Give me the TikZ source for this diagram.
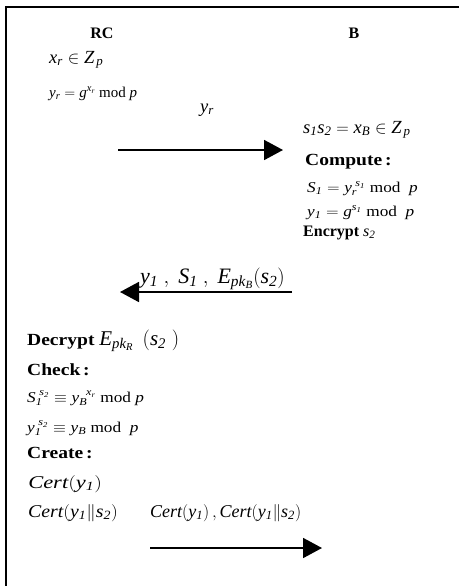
\documentclass[tikz,border=0pt]{standalone}
\usepackage{fontspec}
\setmainfont{Liberation Serif}
\newfontfamily\headfont{Liberation Serif}[FakeStretch=1.15]
\usetikzlibrary{arrows.meta}
\tikzset{
  head/.style={anchor=base west, inner sep=0pt, font=\headfont\fontsize{17}{20}\selectfont\bfseries},
  party/.style={anchor=base, inner sep=0pt, font=\fontsize{16}{19}\selectfont\bfseries},
  bigm/.style={anchor=base west, inner sep=0pt, font=\fontsize{18.5}{22}\selectfont},
  smallm/.style={anchor=base west, inner sep=0pt, xscale=1.15, font=\fontsize{15}{17}\selectfont},
  certm/.style={anchor=base west, inner sep=0pt, font=\fontsize{18}{21}\selectfont},
  msg/.style={line width=1.8pt, -{Triangle[length=19pt,width=20pt]}},
  frame/.style={line width=1.8pt}
}
\begin{document}
\begin{tikzpicture}[x=1pt,y=-1pt]
\useasboundingbox (0,0) rectangle (459,587);
% frame (top and left sides only)
\coordinate (ftl) at (6,7);
\coordinate (ftr) at (459,7);
\coordinate (fbl) at (6,586);
\draw[frame] (ftr) -- (ftl) -- (fbl);
% parties
\node[party] (rc) at (102,38) {RC};
\node[party] (b) at (354,38) {B};
% RC first step
\node[bigm] (xr) at (49,63) {$\mathit{x_r \in Z_{\,p}}$};
\node[anchor=base west, inner sep=0pt, font=\fontsize{15}{17}\selectfont] (yreq) at (49,97) {$\mathit{y_r = g^{x_r}}\ \mathrm{mod}\ \mathit{p}$};
% message 1
\node[bigm] (yrlab) at (200,112) {$\mathit{y_r}$};
\coordinate (a1s) at (118,150);
\coordinate (a1e) at (283,150);
\draw[msg] (a1s) -- (a1e);
% B computations
\node[bigm] (s1s2) at (303,133) {$\mathit{s_1 s_2 = x_B \in Z_{\,p}}$};
\node[head] (compute) at (305,165) {Compute\,:};
\node[smallm] (S1) at (307,192) {$\mathit{S_1 = y_r^{\;s_1}}\ \mathrm{mod}\ \ \mathit{p}$};
\node[smallm] (y1) at (307,216) {$\mathit{y_1 = g^{s_1}}\ \mathrm{mod}\ \ \mathit{p}$};
\node[anchor=base west, inner sep=0pt, font=\fontsize{16}{19}\selectfont\bfseries] (encrypt) at (303,236) {Encrypt {\mdseries$\mathit{s_2}$}};
% message 2
\node[anchor=base west, inner sep=0pt, font=\fontsize{22}{26}\selectfont] (lab2) at (140,283) {$\mathit{y_1\ ,\ S_1\ ,\ E_{pk_B}(s_2)}$};
\coordinate (a2s) at (292,292);
\coordinate (a2e) at (120,292);
\draw[msg] (a2s) -- (a2e);
% RC verification
\node[head] (decrypt) at (27,345) {Decrypt {\mdseries\fontsize{21}{24}\selectfont$\mathit{E_{pk_R}\;\,(s_2\;)}$}};
\node[head] (check) at (27,375) {Check\,:};
\node[smallm] (chk1) at (27,402) {$\mathit{S_1^{\;s_2} \equiv y_B^{\;\;x_r}}\ \mathrm{mod}\ \mathit{p}$};
\node[smallm] (chk2) at (27,432) {$\mathit{y_1^{\;s_2} \equiv y_B}\ \mathrm{mod}\ \ \mathit{p}$};
\node[head] (create) at (27,458) {Create\,:};
\node[certm, xscale=1.25] (cert1) at (28,488) {$\mathit{Cert(y_1)}$};
\node[certm, xscale=1.1] (cert2) at (28,517) {$\mathit{Cert(y_1\|s_2)}$};
% message 3
\node[certm] (lab3) at (150,517) {$\mathit{Cert(y_1)\,,Cert(y_1\|s_2)}$};
\coordinate (a3s) at (150,548);
\coordinate (a3e) at (322,548);
\draw[msg] (a3s) -- (a3e);
\end{tikzpicture}
\end{document}
